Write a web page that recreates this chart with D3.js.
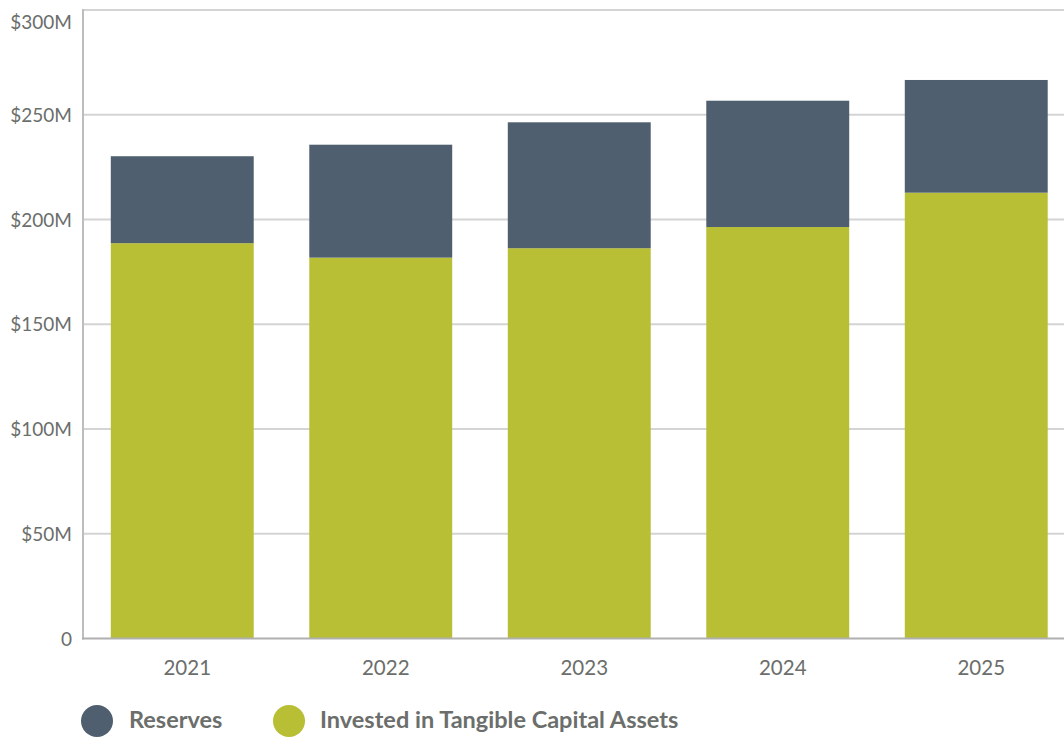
<!DOCTYPE html>
<html>
<head>
<meta charset="utf-8">
<script src="https://cdn.jsdelivr.net/npm/d3@7/dist/d3.min.js"></script>
<style>
  html, body { margin: 0; padding: 0; background: #fff; }
  svg { display: block; }
  text { font-family: Lato, "Open Sans", sans-serif; }
</style>
</head>
<body>
<svg id="chart" width="1064" height="740"></svg>
<script>
// Fiscal years on the x axis
const years = ["2021", "2022", "2023", "2024", "2025"];
// Values in $ millions
const invested = [188.7, 181.8, 186.3, 196.4, 212.8];
const reserves = [41.5, 53.9, 60.1, 60.3, 53.8];
// Y axis ticks and their labels
const yTicks = [0, 50, 100, 150, 200, 250, 300];
const yTickLabels = ["0", "$50M", "$100M", "$150M", "$200M", "$250M", "$300M"];
// Legend entries
const seriesNames = ["Reserves", "Invested in Tangible Capital Assets"];

const colors = { reserves: "#4f5f6f", invested: "#b8bf35" };
const textColor = "#6b6e6b";

const svg = d3.select("#chart");
const plotLeft = 83, plotTop = 10, plotBottom = 638.5, plotRight = 1075.5;

const x = d3.scaleBand().domain(years).range([plotLeft, plotRight]).paddingInner(0.28).paddingOuter(0.14);
const y = d3.scaleLinear().domain([0, 300]).range([plotBottom, plotTop]);

// Horizontal gridlines
svg.append("g")
  .selectAll("line")
  .data(yTicks.filter(d => d > 0))
  .join("line")
  .attr("x1", plotLeft).attr("x2", 1064)
  .attr("y1", d => y(d)).attr("y2", d => y(d))
  .attr("stroke", "#d4d4d4").attr("stroke-width", 2);

// Stacked bars
const rows = years.map((yr, i) => ({ year: yr, invested: invested[i], reserves: reserves[i] }));
const stack = d3.stack().keys(["invested", "reserves"])(rows);

svg.append("g")
  .selectAll("g")
  .data(stack)
  .join("g")
  .attr("fill", s => colors[s.key])
  .selectAll("rect")
  .data(s => s)
  .join("rect")
  .attr("x", d => x(d.data.year))
  .attr("width", x.bandwidth())
  .attr("y", d => y(d[1]))
  .attr("height", d => y(d[0]) - y(d[1]));

// Axis lines
svg.append("line")
  .attr("x1", plotLeft).attr("x2", plotLeft)
  .attr("y1", plotTop - 1).attr("y2", plotBottom + 1)
  .attr("stroke", "#bdbdbd").attr("stroke-width", 2);
svg.append("line")
  .attr("x1", plotLeft - 1).attr("x2", 1064)
  .attr("y1", plotBottom).attr("y2", plotBottom)
  .attr("stroke", "#b0b0b0").attr("stroke-width", 2);

// Y axis labels (kept inside the frame at the top)
const yAxis = d3.axisLeft(y).tickValues(yTicks).tickSize(0).tickPadding(0)
  .tickFormat((d, i) => yTickLabels[i]);
const gy = svg.append("g").attr("transform", `translate(${plotLeft - 11},0)`).call(yAxis);
gy.select(".domain").remove();
gy.selectAll("text")
  .attr("fill", textColor)
  .attr("font-size", 19)
  .attr("font-family", "Lato, sans-serif")
  .attr("dy", d => (y(d) < 22 ? (22 - y(d)) + 6.5 : 6.5) + "px");

// X axis labels
const xAxis = d3.axisBottom(x).tickSize(0).tickPadding(0);
const gx = svg.append("g").attr("transform", `translate(5,${plotBottom})`).call(xAxis);
gx.select(".domain").remove();
gx.selectAll("text")
  .attr("fill", textColor)
  .attr("font-size", 20.5)
  .attr("font-family", "Lato, sans-serif")
  .attr("dy", null)
  .attr("y", 36);

// Legend
const legendItems = [
  { name: seriesNames[0], color: colors.reserves, cx: 97, tx: 129 },
  { name: seriesNames[1], color: colors.invested, cx: 289, tx: 320 }
];
const lg = svg.append("g");
lg.selectAll("circle")
  .data(legendItems)
  .join("circle")
  .attr("cx", d => d.cx).attr("cy", 721)
  .attr("r", 16)
  .attr("fill", d => d.color);
lg.selectAll("text")
  .data(legendItems)
  .join("text")
  .attr("x", d => d.tx).attr("y", 728)
  .attr("fill", textColor)
  .attr("font-size", 23.5)
  .attr("font-weight", 700)
  .attr("font-family", "Lato, sans-serif")
  .text(d => d.name);
</script>
</body>
</html>
